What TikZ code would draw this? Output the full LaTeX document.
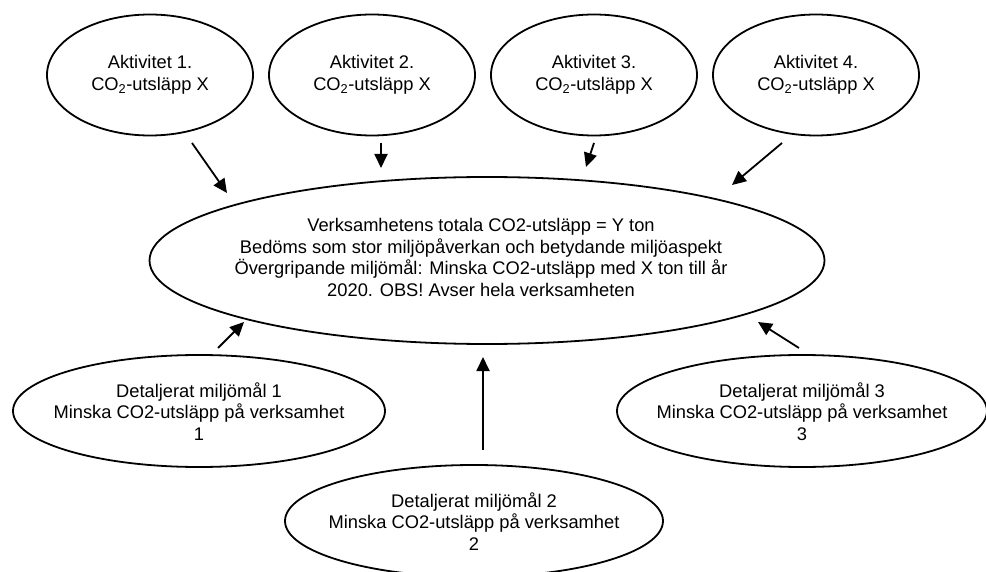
\documentclass[tikz,border=0pt]{standalone}
\usepackage{fontspec}
\setmainfont{Liberation Sans}
\usetikzlibrary{shapes.geometric,arrows.meta}
\begin{document}
\begin{tikzpicture}[x=1pt,y=-1pt,
  ell/.style={draw, ellipse, line width=1.8pt, inner sep=0pt},
  txt/.style={align=center, inner sep=0pt, font=\fontsize{18.3}{21.5}\selectfont},
  arr/.style={line width=1.8pt, -{Triangle[length=14pt,width=13pt]}}]
\useasboundingbox (0,0) rectangle (986,572);
% top activity ellipses
\node[ell, minimum width=206pt, minimum height=121pt] (A1) at (150,75) {};
\node[ell, minimum width=206pt, minimum height=121pt] (A2) at (372,75) {};
\node[ell, minimum width=206pt, minimum height=121pt] (A3) at (594,75) {};
\node[ell, minimum width=206pt, minimum height=121pt] (A4) at (816,75) {};
\node[txt] (A1t) at (A1.center) {Aktivitet 1.\\CO\textsubscript{2}-utsläpp X};
\node[txt] (A2t) at (A2.center) {Aktivitet 2.\\CO\textsubscript{2}-utsläpp X};
\node[txt] (A3t) at (A3.center) {Aktivitet 3.\\CO\textsubscript{2}-utsläpp X};
\node[txt] (A4t) at (A4.center) {Aktivitet 4.\\CO\textsubscript{2}-utsläpp X};
% central ellipse
\node[ell, minimum width=675pt, minimum height=167pt] (C) at (487,260.5) {};
\node[txt] (Ct) at (481,257.5) {Verksamhetens totala CO2-utsläpp = Y ton\\Bedöms som stor miljöpåverkan och betydande miljöaspekt\\Övergripande miljömål: Minska CO2-utsläpp med X ton till år\\2020. OBS! Avser hela verksamheten};
% bottom detail ellipses
\node[ell, minimum width=372pt, minimum height=112pt] (D1) at (199,411) {};
\node[ell, minimum width=378pt, minimum height=112pt] (D2) at (474,521) {};
\node[ell, minimum width=370pt, minimum height=112pt] (D3) at (802,411) {};
\node[txt] (D1t) at (199,411.5) {Detaljerat miljömål 1\\Minska CO2-utsläpp på verksamhet\\1};
\node[txt] (D2t) at (474,521.5) {Detaljerat miljömål 2\\Minska CO2-utsläpp på verksamhet\\2};
\node[txt] (D3t) at (802,411.5) {Detaljerat miljömål 3\\Minska CO2-utsläpp på verksamhet\\3};
% arrow end points
\coordinate (a1s) at (192,143); \coordinate (a1e) at (227,193);
\coordinate (a2s) at (381,143); \coordinate (a2e) at (381,168);
\coordinate (a3s) at (594,143); \coordinate (a3e) at (586,167);
\coordinate (a4s) at (782,143); \coordinate (a4e) at (732,185);
\coordinate (d1s) at (218,348); \coordinate (d1e) at (244,322);
\coordinate (d2s) at (483,450); \coordinate (d2e) at (483,357);
\coordinate (d3s) at (799,348); \coordinate (d3e) at (758,322);
\draw[arr] (a1s) -- (a1e);
\draw[arr] (a2s) -- (a2e);
\draw[arr] (a3s) -- (a3e);
\draw[arr] (a4s) -- (a4e);
\draw[arr] (d1s) -- (d1e);
\draw[arr] (d2s) -- (d2e);
\draw[arr] (d3s) -- (d3e);
\end{tikzpicture}
\end{document}
